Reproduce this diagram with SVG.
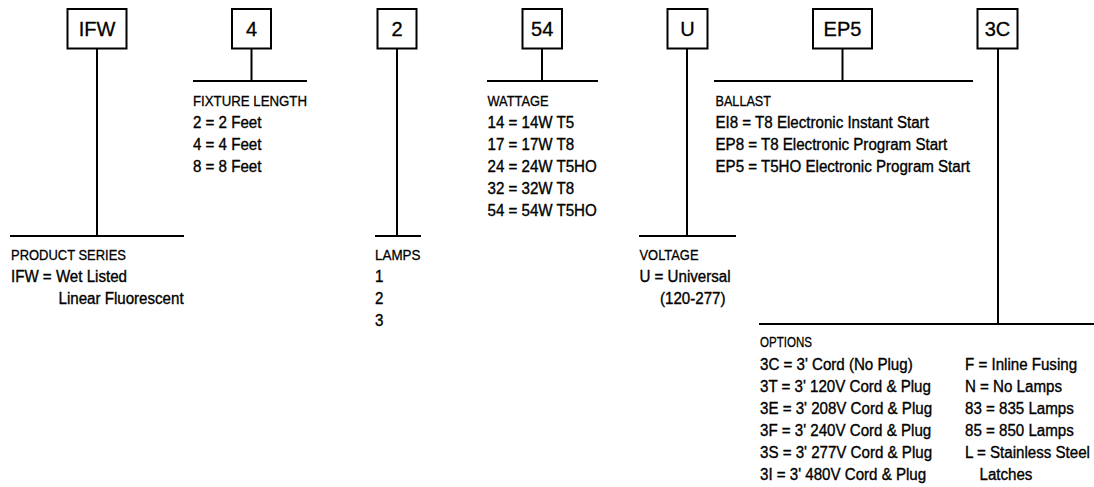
<svg xmlns="http://www.w3.org/2000/svg" width="1094" height="487" viewBox="0 0 1094 487">
<style>
.box{fill:#fff;stroke:#000;stroke-width:2}
.code{font-family:"Liberation Sans",Arial,sans-serif;font-size:20px;fill:#000;text-anchor:middle;stroke:#000;stroke-width:0.3}
.hd{font-family:"Liberation Sans",Arial,sans-serif;font-size:15px;fill:#000;stroke:#000;stroke-width:0.3}
.it{font-family:"Liberation Sans",Arial,sans-serif;font-size:16px;fill:#000;stroke:#000;stroke-width:0.35}
.ln{stroke:#000;stroke-width:2;fill:none}
</style>
<rect width="1094" height="487" fill="#fff"/>
<g id="connectors">
<path class="ln" d="M97 48V236M10 236H184"/>
<path class="ln" d="M251.5 48V81M193 81H307"/>
<path class="ln" d="M397 48V236M375 236H421"/>
<path class="ln" d="M542 48V81M487 81H598"/>
<path class="ln" d="M687 48V236M639 236H736"/>
<path class="ln" d="M842.5 48V81M714 81H973"/>
<path class="ln" d="M998 48V324M759 324H1094"/>
</g>
<g id="node-ifw"><rect class="box" x="67.5" y="9" width="59" height="39.5"/><text class="code" x="97" y="35.6">IFW</text></g>
<g id="node-4"><rect class="box" x="232" y="9" width="39" height="39.5"/><text class="code" x="251.5" y="35.6">4</text></g>
<g id="node-2"><rect class="box" x="377.5" y="9" width="39" height="39.5"/><text class="code" x="397" y="35.6">2</text></g>
<g id="node-54"><rect class="box" x="522.5" y="9" width="39.5" height="39.5"/><text class="code" x="542.2" y="35.6">54</text></g>
<g id="node-u"><rect class="box" x="667.5" y="9" width="40" height="39.5"/><text class="code" x="687.5" y="35.6">U</text></g>
<g id="node-ep5"><rect class="box" x="813" y="9" width="59" height="39.5"/><text class="code" x="842.5" y="35.6">EP5</text></g>
<g id="node-3c"><rect class="box" x="977.5" y="9" width="40" height="39.5"/><text class="code" x="997.5" y="35.6">3C</text></g>

<g id="desc-product">
<text class="hd" x="11" y="260" textLength="115" lengthAdjust="spacingAndGlyphs">PRODUCT SERIES</text>
<text class="it" transform="translate(11,282) scale(.945,1)">IFW = Wet Listed</text>
<text class="it" transform="translate(58.5,304) scale(.945,1)">Linear Fluorescent</text>
</g>
<g id="desc-length">
<text class="hd" x="193" y="105.5" textLength="114" lengthAdjust="spacingAndGlyphs">FIXTURE LENGTH</text>
<text class="it" transform="translate(193,127.5) scale(.945,1)">2 = 2 Feet</text>
<text class="it" transform="translate(193,149.5) scale(.945,1)">4 = 4 Feet</text>
<text class="it" transform="translate(193,171.5) scale(.945,1)">8 = 8 Feet</text>
</g>
<g id="desc-lamps">
<text class="hd" x="375" y="260" textLength="45.5" lengthAdjust="spacingAndGlyphs">LAMPS</text>
<text class="it" transform="translate(375,282) scale(.945,1)">1</text>
<text class="it" transform="translate(375,304) scale(.945,1)">2</text>
<text class="it" transform="translate(375,326) scale(.945,1)">3</text>
</g>
<g id="desc-wattage">
<text class="hd" x="487.5" y="105.5" textLength="61" lengthAdjust="spacingAndGlyphs">WATTAGE</text>
<text class="it" transform="translate(487.5,127.5) scale(.945,1)">14 = 14W T5</text>
<text class="it" transform="translate(487.5,149.5) scale(.945,1)">17 = 17W T8</text>
<text class="it" transform="translate(487.5,171.5) scale(.945,1)">24 = 24W T5HO</text>
<text class="it" transform="translate(487.5,193.5) scale(.945,1)">32 = 32W T8</text>
<text class="it" transform="translate(487.5,215.5) scale(.945,1)">54 = 54W T5HO</text>
</g>
<g id="desc-voltage">
<text class="hd" x="639.5" y="260" textLength="59" lengthAdjust="spacingAndGlyphs">VOLTAGE</text>
<text class="it" transform="translate(639.5,282) scale(.945,1)">U = Universal</text>
<text class="it" transform="translate(660,304) scale(.945,1)">(120-277)</text>
</g>
<g id="desc-ballast">
<text class="hd" x="715.5" y="105.5" textLength="55.5" lengthAdjust="spacingAndGlyphs">BALLAST</text>
<text class="it" transform="translate(715.5,127.5) scale(.945,1)">EI8 = T8 Electronic Instant Start</text>
<text class="it" transform="translate(715.5,149.5) scale(.945,1)">EP8 = T8 Electronic Program Start</text>
<text class="it" transform="translate(715.5,171.5) scale(.945,1)">EP5 = T5HO Electronic Program Start</text>
</g>
<g id="desc-options">
<text class="hd" x="760" y="347" textLength="52" lengthAdjust="spacingAndGlyphs">OPTIONS</text>
<text class="it" transform="translate(760,369.5) scale(.945,1)">3C = 3' Cord (No Plug)</text>
<text class="it" transform="translate(760,391.5) scale(.945,1)">3T = 3' 120V Cord &amp; Plug</text>
<text class="it" transform="translate(760,413.5) scale(.945,1)">3E = 3' 208V Cord &amp; Plug</text>
<text class="it" transform="translate(760,435.5) scale(.945,1)">3F = 3' 240V Cord &amp; Plug</text>
<text class="it" transform="translate(760,457.5) scale(.945,1)">3S = 3' 277V Cord &amp; Plug</text>
<text class="it" transform="translate(760,479.5) scale(.945,1)">3I = 3' 480V Cord &amp; Plug</text>
<text class="it" transform="translate(965,369.5) scale(.945,1)">F = Inline Fusing</text>
<text class="it" transform="translate(965,391.5) scale(.945,1)">N = No Lamps</text>
<text class="it" transform="translate(965,413.5) scale(.945,1)">83 = 835 Lamps</text>
<text class="it" transform="translate(965,435.5) scale(.945,1)">85 = 850 Lamps</text>
<text class="it" transform="translate(965,457.5) scale(.945,1)">L = Stainless Steel</text>
<text class="it" transform="translate(979.5,479.5) scale(.945,1)">Latches</text>
</g>
</svg>
